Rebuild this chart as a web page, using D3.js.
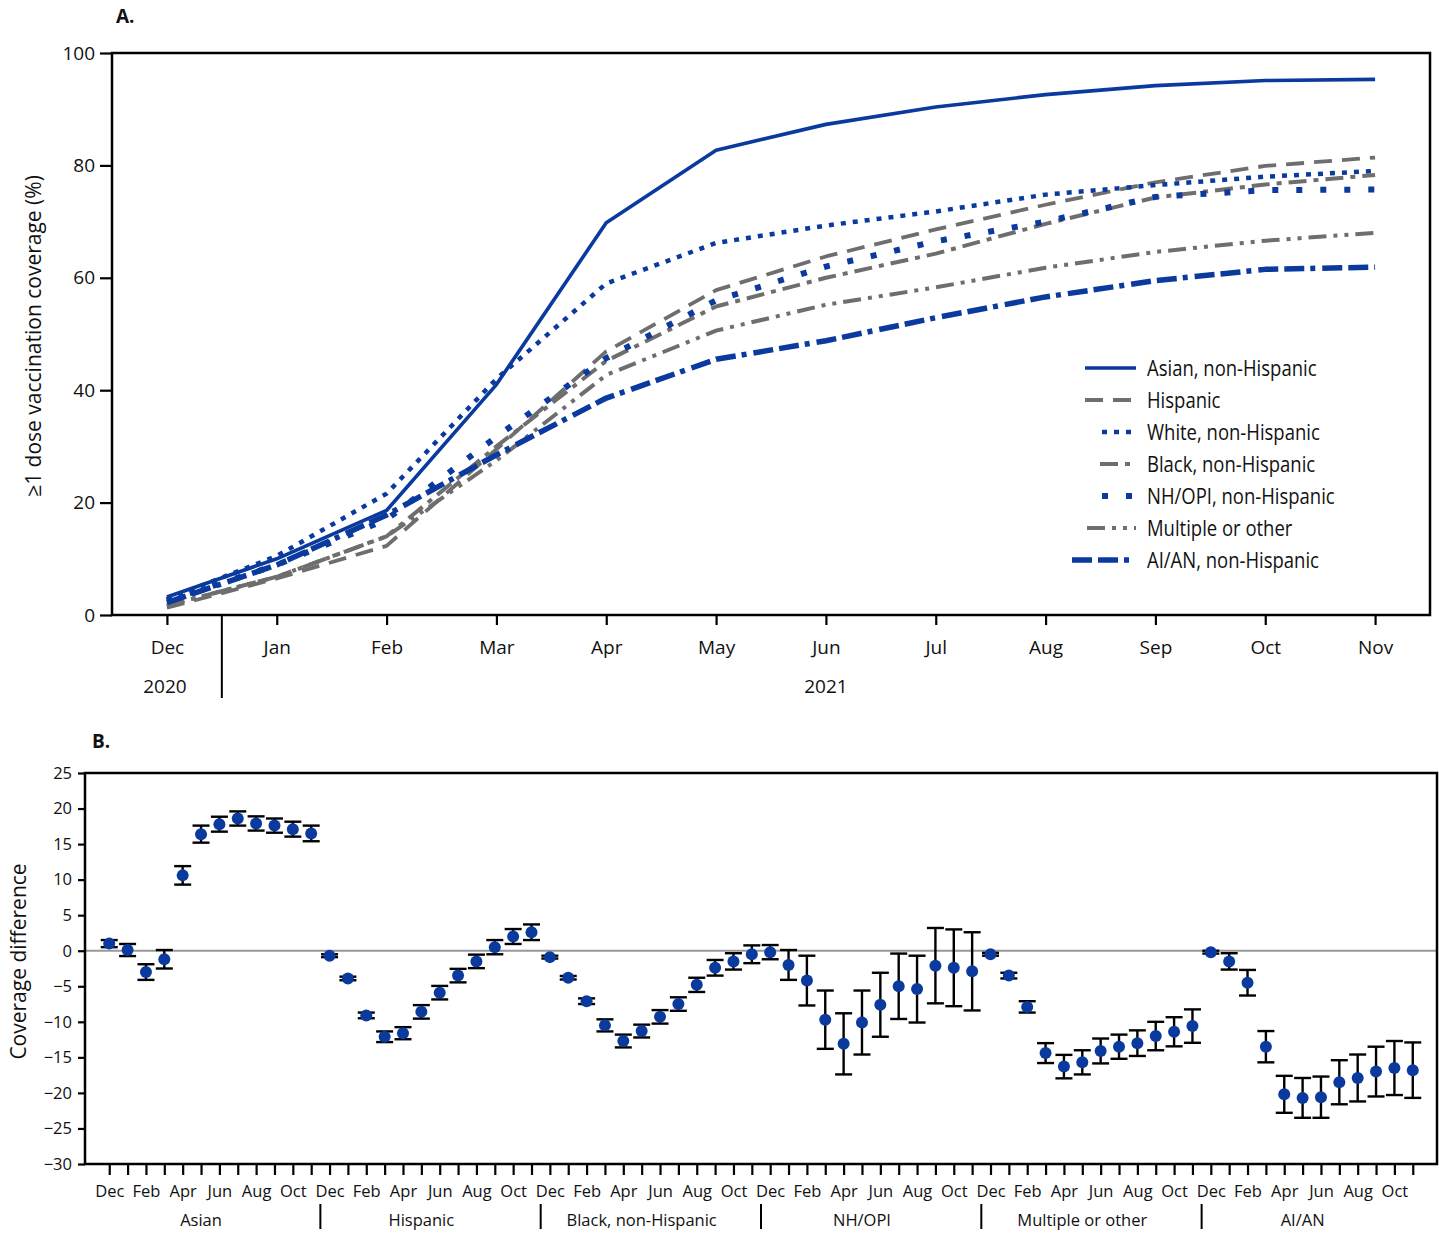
<!DOCTYPE html>
<html><head><meta charset="utf-8">
<script src="https://cdn.jsdelivr.net/npm/d3@7"></script>
<style>body{margin:0;background:#fff} svg{display:block} text{font-family:"Open Sans",sans-serif;fill:#111}</style>
</head><body><svg id="c" width="1439" height="1233"></svg>
<script>
// ---------- DATA ----------
const months = ["Dec","Jan","Feb","Mar","Apr","May","Jun","Jul","Aug","Sep","Oct","Nov"];
const years = [{label:"2020", from:"Dec", to:"Dec"}, {label:"2021", from:"Jan", to:"Nov"}];
const seriesNames = ["Asian, non-Hispanic","Hispanic","White, non-Hispanic","Black, non-Hispanic","NH/OPI, non-Hispanic","Multiple or other","AI/AN, non-Hispanic"];
const asian    = [3.2, 10.0, 18.6, 41.0, 69.8, 82.7, 87.3, 90.4, 92.6, 94.2, 95.1, 95.3];
const hispanic = [1.3, 6.5, 12.3, 29.5, 46.9, 57.8, 63.8, 68.6, 73.0, 77.0, 79.9, 81.4];
const white    = [2.8, 10.5, 21.6, 42.0, 59.0, 66.2, 69.3, 71.8, 74.8, 76.5, 78.0, 79.0];
const black    = [1.7, 6.8, 14.0, 30.0, 45.2, 54.9, 60.0, 64.3, 69.6, 74.3, 76.6, 78.3];
const nhopi    = [2.5, 8.9, 17.0, 31.7, 45.7, 56.0, 62.0, 66.5, 70.0, 74.4, 75.6, 75.7];
const multiple = [1.7, 6.8, 14.0, 27.5, 42.7, 50.6, 55.2, 58.3, 61.8, 64.6, 66.6, 68.0];
const aian     = [2.2, 8.9, 17.8, 28.5, 38.6, 45.5, 48.8, 52.9, 56.6, 59.5, 61.5, 61.9];
const yTicksA = [0, 20, 40, 60, 80, 100];

const groupsB = ["Asian","Hispanic","Black, non-Hispanic","NH/OPI","Multiple or other","AI/AN"];
const diffAsian    = [1.0, 0.1, -3.0, -1.2, 10.6, 16.4, 17.8, 18.6, 17.9, 17.6, 17.1, 16.5];
const ciAsian      = [0.5, 0.85, 1.1, 1.3, 1.3, 1.2, 1.05, 1.0, 1.0, 1.0, 1.05, 1.1];
const diffHispanic = [-0.7, -3.9, -9.1, -12.1, -11.6, -8.6, -5.9, -3.5, -1.5, 0.5, 2.0, 2.6];
const ciHispanic   = [0.2, 0.25, 0.4, 0.75, 0.85, 0.95, 0.95, 0.95, 0.95, 1.0, 1.05, 1.1];
const diffBlack    = [-0.9, -3.8, -7.1, -10.5, -12.7, -11.3, -9.3, -7.5, -4.8, -2.4, -1.5, -0.5];
const ciBlack      = [0.2, 0.25, 0.4, 0.85, 0.9, 0.9, 0.95, 0.95, 1.0, 1.1, 1.15, 1.25];
const diffNhopi    = [-0.2, -2.0, -4.2, -9.7, -13.1, -10.1, -7.6, -5.0, -5.4, -2.1, -2.4, -2.9];
const ciNhopi      = [1.0, 2.1, 3.5, 4.1, 4.3, 4.5, 4.5, 4.6, 4.7, 5.3, 5.4, 5.5];
const diffMultiple = [-0.5, -3.5, -7.9, -14.4, -16.3, -15.7, -14.1, -13.5, -13.0, -12.0, -11.4, -10.6];
const ciMultiple   = [0.2, 0.4, 0.8, 1.4, 1.65, 1.7, 1.75, 1.7, 1.8, 2.0, 2.05, 2.35];
const diffAian     = [-0.2, -1.5, -4.5, -13.5, -20.2, -20.7, -20.6, -18.5, -17.9, -17.0, -16.5, -16.8];
const ciAian       = [0.2, 1.15, 1.8, 2.2, 2.6, 2.8, 2.9, 3.1, 3.3, 3.5, 3.8, 3.9];
const yTicksB = [25, 20, 15, 10, 5, 0, -5, -10, -15, -20, -25, -30];
const bMonthLabels = ["Dec","Feb","Apr","Jun","Aug","Oct"];

// ---------- STYLES ----------
const BLUE = "#0a3a9e", GRAY = "#6e6e6e";
const seriesA = [asian, hispanic, white, black, nhopi, multiple, aian];
const stylesA = [
  {c:BLUE, w:3.6, dash:null, lx:1085},
  {c:GRAY, w:3.8, dash:"18,10", lx:1085},
  {c:BLUE, w:4.5, dash:"5,7", lx:1102},
  {c:GRAY, w:4, dash:"18,7,5,7", lx:1100},
  {c:BLUE, w:6, dash:"6,18", lx:1102},
  {c:GRAY, w:4, dash:"18,7,4,7,4,7", lx:1087},
  {c:BLUE, w:5.5, dash:"20,6,20,6,5,7", lx:1072}
];
const diffsB = [diffAsian, diffHispanic, diffBlack, diffNhopi, diffMultiple, diffAian];
const cisB = [ciAsian, ciHispanic, ciBlack, ciNhopi, ciMultiple, ciAian];

const svg = d3.select("#c");

// ---------- PANEL A ----------
const A = {l:112, r:1430, t:53, b:615};
const xA = d3.scalePoint().domain(months).range([A.l, A.r]).padding(0.5);
const yA = d3.scaleLinear().domain([0,100]).range([A.b, A.t]);

const gA = svg.append("g");
const line = d3.line().x((d,i)=>xA(months[i])).y(d=>yA(d));
seriesA.forEach((s,i)=>{
  const st = stylesA[i];
  gA.append("path").datum(s).attr("d", line).attr("fill","none")
    .attr("stroke", st.c).attr("stroke-width", st.w)
    .attr("stroke-dasharray", st.dash).attr("stroke-linejoin","round");
});

const axLA = gA.append("g").attr("transform",`translate(${A.l},0)`)
  .call(d3.axisLeft(yA).tickValues(yTicksA).tickSize(12).tickPadding(5));
const axBA = gA.append("g").attr("transform",`translate(0,${A.b})`)
  .call(d3.axisBottom(xA).tickSize(10).tickPadding(15));
[axLA, axBA].forEach(a=>{
  a.select(".domain").remove();
  a.selectAll(".tick line").attr("stroke","#000").attr("stroke-width",2.2);
  a.selectAll("text").style("font-size","19px").attr("fill","#111");
});
axBA.selectAll(".tick text").attr("dy","0.75em");
gA.append("rect").attr("x",A.l).attr("y",A.t).attr("width",A.r-A.l).attr("height",A.b-A.t)
  .attr("fill","none").attr("stroke","#000").attr("stroke-width",2.5);
const sepX = (xA("Dec")+xA("Jan"))/2;
gA.append("line").attr("x1",sepX).attr("x2",sepX).attr("y1",A.b).attr("y2",698)
  .attr("stroke","#000").attr("stroke-width",2);
years.forEach(y=>{
  gA.append("text").attr("x",(xA(y.from)+xA(y.to))/2 - (y.label==="2020"?2:0)).attr("y",693)
    .attr("text-anchor","middle").style("font-size","19px").text(y.label);
});
gA.append("text").attr("transform",`translate(41,${(A.t+A.b)/2+2}) rotate(-90)`)
  .attr("text-anchor","middle").style("font-size","21px").text("≥1 dose vaccination coverage (%)");
gA.append("text").attr("x",116).attr("y",23).style("font-size","19px").style("font-weight","bold").text("A.");

// legend
const legY0 = 368, legDy = 32;
seriesNames.forEach((n,i)=>{
  const st = stylesA[i], yy = legY0 + i*legDy;
  gA.append("line").attr("x1",st.lx).attr("x2",1136).attr("y1",yy).attr("y2",yy)
    .attr("stroke",st.c).attr("stroke-width",st.w).attr("stroke-dasharray",st.dash);
  gA.append("text").attr("transform",`translate(1147,${yy}) scale(0.88,1)`).attr("dy","0.36em")
    .style("font-size","21px").text(n);
});

// ---------- PANEL B ----------
const B = {l:85, r:1437, t:773, b:1164};
const keysB = [];
groupsB.forEach(g=>months.forEach(m=>keysB.push(g+"|"+m)));
const xB = d3.scalePoint().domain(keysB).range([B.l, B.r]).padding(1.32);
const yB = d3.scaleLinear().domain([-30,25]).range([B.b, B.t]);
const gB = svg.append("g");

gB.append("line").attr("x1",B.l).attr("x2",B.r).attr("y1",yB(0)).attr("y2",yB(0))
  .attr("stroke","#999").attr("stroke-width",2);

const axLB = gB.append("g").attr("transform",`translate(${B.l},0)`)
  .call(d3.axisLeft(yB).tickValues(yTicksB).tickSize(7).tickPadding(6));
const axBB = gB.append("g").attr("transform",`translate(0,${B.b})`)
  .call(d3.axisBottom(xB).tickSize(11).tickPadding(10)
    .tickFormat(k=>{const m=k.split("|")[1]; return bMonthLabels.includes(m)?m:"";}));
[axLB, axBB].forEach(a=>{
  a.select(".domain").remove();
  a.selectAll(".tick line").attr("stroke","#000").attr("stroke-width",2.2);
  a.selectAll("text").style("font-size","16.5px").attr("fill","#111");
});

const capW = 17;
groupsB.forEach((g,gi)=>{
  const data = diffsB[gi].map((v,i)=>({k:g+"|"+months[i], v, ci:cisB[gi][i]}));
  const eg = gB.append("g").attr("stroke","#000").attr("stroke-width",2.4);
  data.forEach(d=>{
    const x = xB(d.k), y1 = yB(d.v + d.ci), y2 = yB(d.v - d.ci);
    eg.append("line").attr("x1",x).attr("x2",x).attr("y1",y1).attr("y2",y2);
    eg.append("line").attr("x1",x-capW/2).attr("x2",x+capW/2).attr("y1",y1).attr("y2",y1);
    eg.append("line").attr("x1",x-capW/2).attr("x2",x+capW/2).attr("y1",y2).attr("y2",y2);
  });
  gB.append("g").selectAll("circle").data(data).join("circle")
    .attr("cx",d=>xB(d.k)).attr("cy",d=>yB(d.v)).attr("r",6).attr("fill",BLUE);
  const cx = (xB(g+"|Dec")+xB(g+"|Nov"))/2 - xB.step()/2;
  gB.append("text").attr("x",cx).attr("y",1226).attr("text-anchor","middle")
    .style("font-size","16.5px").text(g);
  if(gi < groupsB.length-1){
    const sx = (xB(g+"|Nov")+xB(groupsB[gi+1]+"|Dec"))/2;
    gB.append("line").attr("x1",sx).attr("x2",sx).attr("y1",1204).attr("y2",1229)
      .attr("stroke","#000").attr("stroke-width",2);
  }
});

gB.append("rect").attr("x",B.l).attr("y",B.t).attr("width",B.r-B.l).attr("height",B.b-B.t)
  .attr("fill","none").attr("stroke","#000").attr("stroke-width",2.5);
gB.append("text").attr("transform",`translate(26,${(B.t+B.b)/2-7}) rotate(-90)`)
  .attr("text-anchor","middle").style("font-size","21px").text("Coverage difference");
gB.append("text").attr("x",92).attr("y",748).style("font-size","19px").style("font-weight","bold").text("B.");
</script>
</body></html>
